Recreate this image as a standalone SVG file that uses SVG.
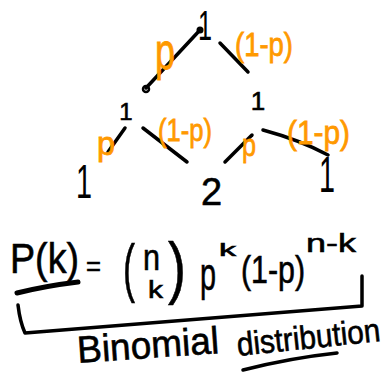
<svg xmlns="http://www.w3.org/2000/svg" width="390" height="378" viewBox="0 0 390 378">
<style>
.ink{fill:#000;font-family:"Liberation Sans",Arial,sans-serif;stroke:#000;stroke-width:0.6}
.num{fill:#000;font-family:"Liberation Sans",Arial,sans-serif}
.or{fill:#FF9900;font-family:"Liberation Sans",Arial,sans-serif;stroke:#FF9900;stroke-width:0.8}
.ln{fill:none;stroke:#000;stroke-width:3.5;stroke-linecap:round;stroke-linejoin:round}
</style>
<rect width="390" height="378" fill="#fff"/>
<g id="connectors">
<path class="ln" d="M146,88 L200,30"/>
<circle cx="200" cy="30" r="3.5" fill="#000"/>
<circle cx="146" cy="89" r="3" fill="none" stroke="#000" stroke-width="2.5"/>
<path class="ln" d="M220,43 L248,72"/>
<path class="ln" d="M125,128 L108,152"/>
<path class="ln" d="M143,128 L187,162"/>
<path class="ln" d="M225,162 L252,135"/>
<path class="ln" d="M263,130 Q300,140 328,155"/>
</g>
<g id="node-top"><text class="num" x="205" y="40" font-size="42" text-anchor="middle" textLength="14" lengthAdjust="spacingAndGlyphs">1</text></g>
<g id="node-r1-left"><text class="ink" x="126" y="120" font-size="24" text-anchor="middle">1</text></g>
<g id="node-r1-right"><text class="ink" x="258" y="110" font-size="26" text-anchor="middle">1</text></g>
<g id="node-r2-left"><text class="num" x="84" y="198" font-size="48" text-anchor="middle" textLength="16" lengthAdjust="spacingAndGlyphs">1</text></g>
<g id="node-r2-mid"><text class="ink" x="201" y="205" font-size="38">2</text></g>
<g id="node-r2-right"><text class="num" x="327" y="192" font-size="50" text-anchor="middle" textLength="16" lengthAdjust="spacingAndGlyphs">1</text></g>
<g id="labels">
<text class="or" x="155" y="69" font-size="52" textLength="20" lengthAdjust="spacingAndGlyphs">p</text>
<text class="or" x="235" y="56" font-size="33" textLength="58" lengthAdjust="spacingAndGlyphs">(1-p)</text>
<text class="or" x="97" y="155" font-size="33" textLength="18" lengthAdjust="spacingAndGlyphs">p</text>
<text class="or" x="158" y="141" font-size="32" textLength="54" lengthAdjust="spacingAndGlyphs">(1-p)</text>
<text class="or" x="242" y="156" font-size="32" textLength="14" lengthAdjust="spacingAndGlyphs">p</text>
<text class="or" x="287" y="144" font-size="34" textLength="63" lengthAdjust="spacingAndGlyphs">(1-p)</text>
</g>
<g id="formula">
<text class="ink" x="10" y="273" font-size="42" textLength="69" lengthAdjust="spacingAndGlyphs">P(k)</text>
<path d="M17,293 Q45,286 78,282" fill="none" stroke="#000" stroke-width="5" stroke-linecap="round"/>
<text class="ink" x="86" y="276" font-size="28" textLength="15" lengthAdjust="spacingAndGlyphs">=</text>
<text class="ink" x="123" y="290" font-size="64" textLength="12" lengthAdjust="spacingAndGlyphs">(</text>
<text class="ink" x="143" y="270" font-size="36" textLength="17" lengthAdjust="spacingAndGlyphs">n</text>
<text class="ink" x="148" y="298" font-size="23" textLength="15" lengthAdjust="spacingAndGlyphs">k</text>
<text class="ink" x="168" y="291" font-size="68" textLength="18" lengthAdjust="spacingAndGlyphs">)</text>
<text class="ink" x="200" y="290" font-size="46" textLength="16" lengthAdjust="spacingAndGlyphs">p</text>
<text class="ink" x="219" y="256" font-size="18" textLength="17" lengthAdjust="spacingAndGlyphs">k</text>
<text class="ink" x="241" y="283" font-size="38" textLength="64" lengthAdjust="spacingAndGlyphs">(1-p)</text>
<text class="ink" x="306" y="252" font-size="26" textLength="50" lengthAdjust="spacingAndGlyphs">n-k</text>
<path class="ln" d="M18,305 Q20,322 25,333 L362,306 L362,276"/>
</g>
<g id="caption">
<text class="ink" x="78" y="363" font-size="38" textLength="142" lengthAdjust="spacingAndGlyphs" transform="rotate(-4 78 363)">Binomial</text>
<text class="ink" x="238" y="356" font-size="33" textLength="144" lengthAdjust="spacingAndGlyphs" transform="rotate(-6 238 356)">distribution</text>
<path class="ln" d="M243,370 Q290,358 337,353"/>
</g>
</svg>
